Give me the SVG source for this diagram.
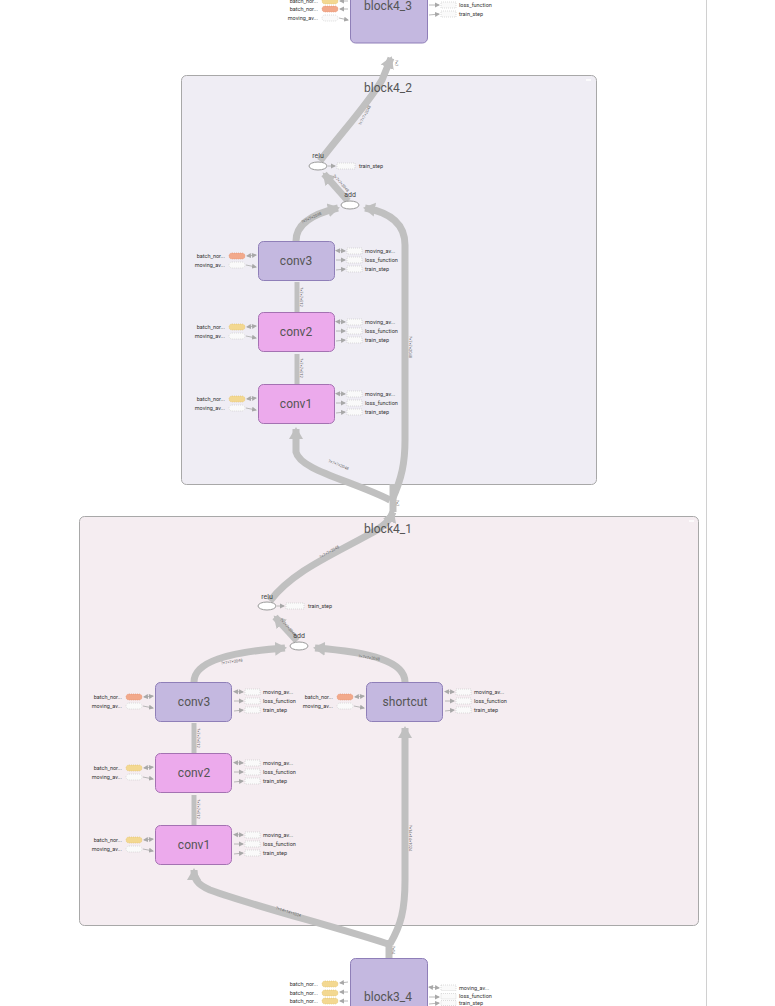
<svg xmlns="http://www.w3.org/2000/svg" xmlns:xlink="http://www.w3.org/1999/xlink" width="775" height="1006" viewBox="0 0 775 1006">
<style>
  .bg{fill:#ffffff}
  .scene{stroke:#a8a8a8;stroke-width:1}
  .s42{fill:#efedf4}
  .s41{fill:#f5edf1}
  .title{font-family:"Roboto","Liberation Sans",sans-serif;font-size:12px;fill:#555;text-anchor:middle}
  .meta{fill:#c4b8e0;stroke:#8f7fb8;stroke-width:1}
  .conv{fill:#ecaaec;stroke:#a472b2;stroke-width:1}
  .nlabel{font-family:"Roboto","Liberation Sans",sans-serif;font-size:12px;fill:#555;text-anchor:middle}
  .op{fill:#ffffff;stroke:#999;stroke-width:1}
  .oplabel{font-family:"Roboto","Liberation Sans",sans-serif;font-size:7px;fill:#444;text-anchor:middle}
  .aux{font-family:"Roboto","Liberation Sans",sans-serif;font-size:5.5px;fill:#333}
  .auxL{text-anchor:end}
  .pillO{fill:#f2a98b;stroke:#e0906e;stroke-width:0.6;stroke-dasharray:1 1}
  .pillY{fill:#f3d891;stroke:#dfc070;stroke-width:0.6;stroke-dasharray:1 1}
  .pillW{fill:#fafafa;stroke:#c8c8c8;stroke-width:0.6;stroke-dasharray:1 1}
  .box{fill:#fafafa;stroke:#c8c8c8;stroke-width:0.6;stroke-dasharray:1 1}
  .thin{stroke:#a8a8a8;stroke-width:0.8;fill:none}
  .edge{stroke:#c0c0c0;stroke-width:7;fill:none}
  .edgeS{stroke:#c0c0c0;stroke-width:5;fill:none}
  .elabel{font-family:"Roboto","Liberation Sans",sans-serif;font-size:4px;fill:#666;text-anchor:middle}
</style>
<defs>
  <marker id="big" markerUnits="userSpaceOnUse" markerWidth="16" markerHeight="16" refX="10" refY="8" orient="auto">
    <path d="M0,1 L12,8 L0,15 Z" fill="#c0c0c0"/>
  </marker>
  <marker id="sm" markerUnits="userSpaceOnUse" markerWidth="6" markerHeight="6" refX="4" refY="3" orient="auto">
    <path d="M0,0.5 L5,3 L0,5.5 Z" fill="#a8a8a8"/>
  </marker>
  <marker id="smS" markerUnits="userSpaceOnUse" markerWidth="6" markerHeight="6" refX="1" refY="3" orient="auto">
    <path d="M5,0.5 L0,3 L5,5.5 Z" fill="#a8a8a8"/>
  </marker>
  <!-- right-hand auxiliary items, placed at (right edge, top) of a node -->
  <g id="auxRight">
    <line class="thin" x1="2" y1="9.5" x2="11" y2="10" marker-start="url(#smS)" marker-end="url(#sm)"/>
    <line class="thin" x1="2" y1="19" x2="11" y2="19" marker-end="url(#sm)"/>
    <line class="thin" x1="2" y1="29" x2="11" y2="28" marker-end="url(#sm)"/>
    <rect class="box" x="13" y="7" width="15" height="6"/>
    <rect class="box" x="13" y="16" width="15" height="6"/>
    <rect class="box" x="13" y="25" width="15" height="6"/>
    <text class="aux" x="31" y="12">moving_av...</text>
    <text class="aux" x="31" y="21">loss_function</text>
    <text class="aux" x="31" y="30">train_step</text>
  </g>
  <!-- left-hand auxiliary items, placed at (left edge, top) of a node -->
  <g id="auxLeftO">
    <line class="thin" x1="-2" y1="14" x2="-11" y2="15" marker-start="url(#smS)" marker-end="url(#sm)"/>
    <line class="thin" x1="-12" y1="24" x2="-2" y2="26" marker-end="url(#sm)"/>
    <rect class="pillO" x="-29" y="12" width="16" height="6" rx="3"/>
    <rect class="pillW" x="-29" y="21" width="16" height="6" rx="3"/>
    <text class="aux auxL" x="-33" y="17">batch_nor...</text>
    <text class="aux auxL" x="-33" y="26">moving_av...</text>
  </g>
  <g id="auxLeftY">
    <line class="thin" x1="-2" y1="14" x2="-11" y2="15" marker-start="url(#smS)" marker-end="url(#sm)"/>
    <line class="thin" x1="-12" y1="24" x2="-2" y2="26" marker-end="url(#sm)"/>
    <rect class="pillY" x="-29" y="12" width="16" height="6" rx="3"/>
    <rect class="pillW" x="-29" y="21" width="16" height="6" rx="3"/>
    <text class="aux auxL" x="-33" y="17">batch_nor...</text>
    <text class="aux auxL" x="-33" y="26">moving_av...</text>
  </g>
</defs>

<rect class="bg" x="0" y="0" width="775" height="1006"/>
<!-- side panel divider -->
<line x1="706.5" y1="0" x2="706.5" y2="1006" stroke="#d0d0d0" stroke-width="1"/>

<!-- expanded scopes -->
<g id="block4_2">
  <rect class="scene s42" x="181.5" y="75.5" width="415" height="409" rx="5"/>
  <line x1="586" y1="80" x2="591" y2="80" stroke="#fff" stroke-width="1.5"/>
</g>
<g id="block4_1">
  <rect class="scene s41" x="79.5" y="516.5" width="619" height="409" rx="5"/>
  <line x1="689" y1="521" x2="694" y2="521" stroke="#fff" stroke-width="1.5"/>
</g>

<!-- connectors -->
<g id="edges">
  <!-- block4_2 -> block4_3 -->
  <path class="edge" d="M320,161 C342,132 368,104 382,80 L391,58" marker-end="url(#big)"/>
  <!-- block4_2 internal -->
  <path class="edge" d="M348,201 L324,174" marker-end="url(#big)"/>
  <path class="edge" d="M296,241 C296,224 312,214 338,208" marker-end="url(#big)"/>
  <path class="edgeS" d="M297,312 L297,282"/>
  <path class="edgeS" d="M297,384 L297,354"/>
  <path class="edge" d="M390,500 C350,480 300,470 296,452 L296,429" marker-end="url(#big)"/>
  <path class="edge" d="M392,500 C402,478 405,462 405,440 L405,245 C405,222 388,212 365,208" marker-end="url(#big)"/>
  <!-- block4_1 -> block4_2 -->
  <path class="edge" d="M270,601 C292,572 330,556 368,535 C385,526 390,520 393,512" marker-end="url(#big)"/>
  <path class="edge" d="M393,512 L393,484"/>
  <!-- block4_1 internal -->
  <path class="edge" d="M297,641 L275,617" marker-end="url(#big)"/>
  <path class="edge" d="M194,682 C194,662 228,652 285,648" marker-end="url(#big)"/>
  <path class="edge" d="M405,682 C405,662 372,652 315,648" marker-end="url(#big)"/>
  <path class="edgeS" d="M194,753 L194,723"/>
  <path class="edgeS" d="M194,825 L194,795"/>
  <path class="edge" d="M388,944 C330,925 260,908 210,890 C196,884 194,878 194,870" marker-end="url(#big)"/>
  <path class="edge" d="M390,944 C401,925 405,910 405,880 L405,728" marker-end="url(#big)"/>
  <!-- block3_4 -> block4_1 -->
  <path class="edge" d="M389,958 L389,940"/>

  <!-- tensor shape labels -->
  <text class="elabel" transform="translate(366,116) rotate(-62)">?×7×7×2048</text>
  <text class="elabel" transform="translate(340,184) rotate(48)">?×7×7×2048</text>
  <text class="elabel" transform="translate(312,219) rotate(-25)">?×7×7×2048</text>
  <text class="elabel" transform="translate(300,297) rotate(90)">?×7×7×512</text>
  <text class="elabel" transform="translate(300,368) rotate(90)">?×7×7×512</text>
  <text class="elabel" transform="translate(409,347) rotate(90)">?×7×7×2048</text>
  <text class="elabel" transform="translate(338,466) rotate(22)">?×7×7×2048</text>
  <text class="elabel" transform="translate(395,63) rotate(90)">?×7</text>
  <text class="elabel" transform="translate(396,503) rotate(90)">?×7</text>
  <text class="elabel" transform="translate(330,553) rotate(-30)">?×7×7×2048</text>
  <text class="elabel" transform="translate(287,628) rotate(48)">?×7×7×2048</text>
  <text class="elabel" transform="translate(232,663) rotate(-8)">?×7×7×2048</text>
  <text class="elabel" transform="translate(369,659) rotate(8)">?×7×7×2048</text>
  <text class="elabel" transform="translate(197,738) rotate(90)">?×7×7×512</text>
  <text class="elabel" transform="translate(197,809) rotate(90)">?×7×7×512</text>
  <text class="elabel" transform="translate(409,838) rotate(90)">?×14×14×1024</text>
  <text class="elabel" transform="translate(288,913) rotate(18)">?×14×14×1024</text>
  <text class="elabel" transform="translate(392,950) rotate(90)">?×14</text>
</g>

<!-- scope titles, drawn above the connectors -->
<g id="scope-titles">
  <text class="title" x="388" y="92">block4_2</text>
  <text class="title" x="388" y="533">block4_1</text>
</g>

<!-- block4_3 (collapsed) -->
<g id="block4_3">
  <rect class="meta" x="350.5" y="-10" width="77" height="53" rx="5"/>
  <text class="nlabel" x="388" y="10">block4_3</text>
  <line class="thin" x1="348" y1="1" x2="340" y2="1" marker-end="url(#sm)"/>
  <line class="thin" x1="348" y1="9" x2="340" y2="9" marker-end="url(#sm)"/>
  <line class="thin" x1="339" y1="18" x2="348" y2="20" marker-end="url(#sm)"/>
  <rect class="pillY" x="322" y="-2" width="16" height="6" rx="3"/>
  <rect class="pillO" x="322" y="6" width="16" height="6" rx="3"/>
  <rect class="pillW" x="322" y="15" width="16" height="6" rx="3"/>
  <text class="aux auxL" x="318" y="3">batch_nor...</text>
  <text class="aux auxL" x="318" y="11">batch_nor...</text>
  <text class="aux auxL" x="318" y="20">moving_av...</text>
  <line class="thin" x1="429" y1="5" x2="439" y2="5" marker-end="url(#sm)"/>
  <line class="thin" x1="429" y1="15" x2="439" y2="14" marker-end="url(#sm)"/>
  <rect class="box" x="441" y="2" width="15" height="6"/>
  <rect class="box" x="441" y="11" width="15" height="6"/>
  <text class="aux" x="459" y="7">loss_function</text>
  <text class="aux" x="459" y="16">train_step</text>
</g>

<!-- block4_2 contents -->
<g id="b42_relu">
  <ellipse class="op" cx="318" cy="166" rx="9" ry="4"/>
  <text class="oplabel" x="318" y="158">relu</text>
  <line class="thin" x1="328" y1="166" x2="335" y2="166" marker-end="url(#sm)"/>
  <rect class="box" x="337" y="163" width="18" height="6"/>
  <text class="aux" x="359" y="168">train_step</text>
</g>
<g id="b42_add">
  <ellipse class="op" cx="350" cy="205" rx="9" ry="4"/>
  <text class="oplabel" x="350" y="197">add</text>
</g>
<g id="b42_conv3">
  <rect class="meta" x="258.5" y="241.5" width="76" height="39" rx="5"/>
  <text class="nlabel" x="296" y="265">conv3</text>
  <use xlink:href="#auxLeftO" transform="translate(258,241)"/>
  <use xlink:href="#auxRight" transform="translate(334,241)"/>
</g>
<g id="b42_conv2">
  <rect class="conv" x="258.5" y="312.5" width="76" height="39" rx="5"/>
  <text class="nlabel" x="296" y="336">conv2</text>
  <use xlink:href="#auxLeftY" transform="translate(258,312)"/>
  <use xlink:href="#auxRight" transform="translate(334,312)"/>
</g>
<g id="b42_conv1">
  <rect class="conv" x="258.5" y="384.5" width="76" height="39" rx="5"/>
  <text class="nlabel" x="296" y="408">conv1</text>
  <use xlink:href="#auxLeftY" transform="translate(258,384)"/>
  <use xlink:href="#auxRight" transform="translate(334,384)"/>
</g>

<!-- block4_1 contents -->
<g id="b41_relu">
  <ellipse class="op" cx="267" cy="606" rx="9" ry="4"/>
  <text class="oplabel" x="267" y="599">relu</text>
  <line class="thin" x1="277" y1="606" x2="284" y2="606" marker-end="url(#sm)"/>
  <rect class="box" x="286" y="603" width="18" height="6"/>
  <text class="aux" x="308" y="608">train_step</text>
</g>
<g id="b41_add">
  <ellipse class="op" cx="299" cy="646" rx="9" ry="4"/>
  <text class="oplabel" x="299" y="638">add</text>
</g>
<g id="b41_conv3">
  <rect class="meta" x="155.5" y="682.5" width="76" height="39" rx="5"/>
  <text class="nlabel" x="194" y="706">conv3</text>
  <use xlink:href="#auxLeftO" transform="translate(155,682)"/>
  <use xlink:href="#auxRight" transform="translate(232,682)"/>
</g>
<g id="b41_shortcut">
  <rect class="meta" x="366.5" y="682.5" width="76" height="39" rx="5"/>
  <text class="nlabel" x="405" y="706">shortcut</text>
  <use xlink:href="#auxLeftO" transform="translate(366,682)"/>
  <use xlink:href="#auxRight" transform="translate(443,682)"/>
</g>
<g id="b41_conv2">
  <rect class="conv" x="155.5" y="753.5" width="76" height="39" rx="5"/>
  <text class="nlabel" x="194" y="777">conv2</text>
  <use xlink:href="#auxLeftY" transform="translate(155,753)"/>
  <use xlink:href="#auxRight" transform="translate(232,753)"/>
</g>
<g id="b41_conv1">
  <rect class="conv" x="155.5" y="825.5" width="76" height="39" rx="5"/>
  <text class="nlabel" x="194" y="849">conv1</text>
  <use xlink:href="#auxLeftY" transform="translate(155,825)"/>
  <use xlink:href="#auxRight" transform="translate(232,825)"/>
</g>

<!-- block3_4 (collapsed) -->
<g id="block3_4">
  <rect class="meta" x="350.5" y="958.5" width="77" height="60" rx="5"/>
  <text class="nlabel" x="388" y="1001">block3_4</text>
  <line class="thin" x1="348" y1="982" x2="340" y2="983" marker-end="url(#sm)"/>
  <line class="thin" x1="348" y1="992" x2="340" y2="992" marker-end="url(#sm)"/>
  <line class="thin" x1="348" y1="1001" x2="340" y2="1001" marker-end="url(#sm)"/>
  <rect class="pillY" x="322" y="981" width="16" height="6" rx="3"/>
  <rect class="pillY" x="322" y="990" width="16" height="6" rx="3"/>
  <rect class="pillY" x="322" y="998" width="16" height="6" rx="3"/>
  <text class="aux auxL" x="318" y="986">batch_nor...</text>
  <text class="aux auxL" x="318" y="995">batch_nor...</text>
  <text class="aux auxL" x="318" y="1003">batch_nor...</text>
  <line class="thin" x1="429" y1="987" x2="439" y2="988" marker-start="url(#smS)" marker-end="url(#sm)"/>
  <line class="thin" x1="429" y1="997" x2="439" y2="997" marker-end="url(#sm)"/>
  <line class="thin" x1="429" y1="1004" x2="439" y2="1003" marker-end="url(#sm)"/>
  <rect class="box" x="441" y="985" width="15" height="5.5"/>
  <rect class="box" x="441" y="993.5" width="15" height="5.5"/>
  <rect class="box" x="441" y="1000.5" width="15" height="5"/>
  <text class="aux" x="459" y="990">moving_av...</text>
  <text class="aux" x="459" y="998">loss_function</text>
  <text class="aux" x="459" y="1005">train_step</text>
</g>
</svg>
